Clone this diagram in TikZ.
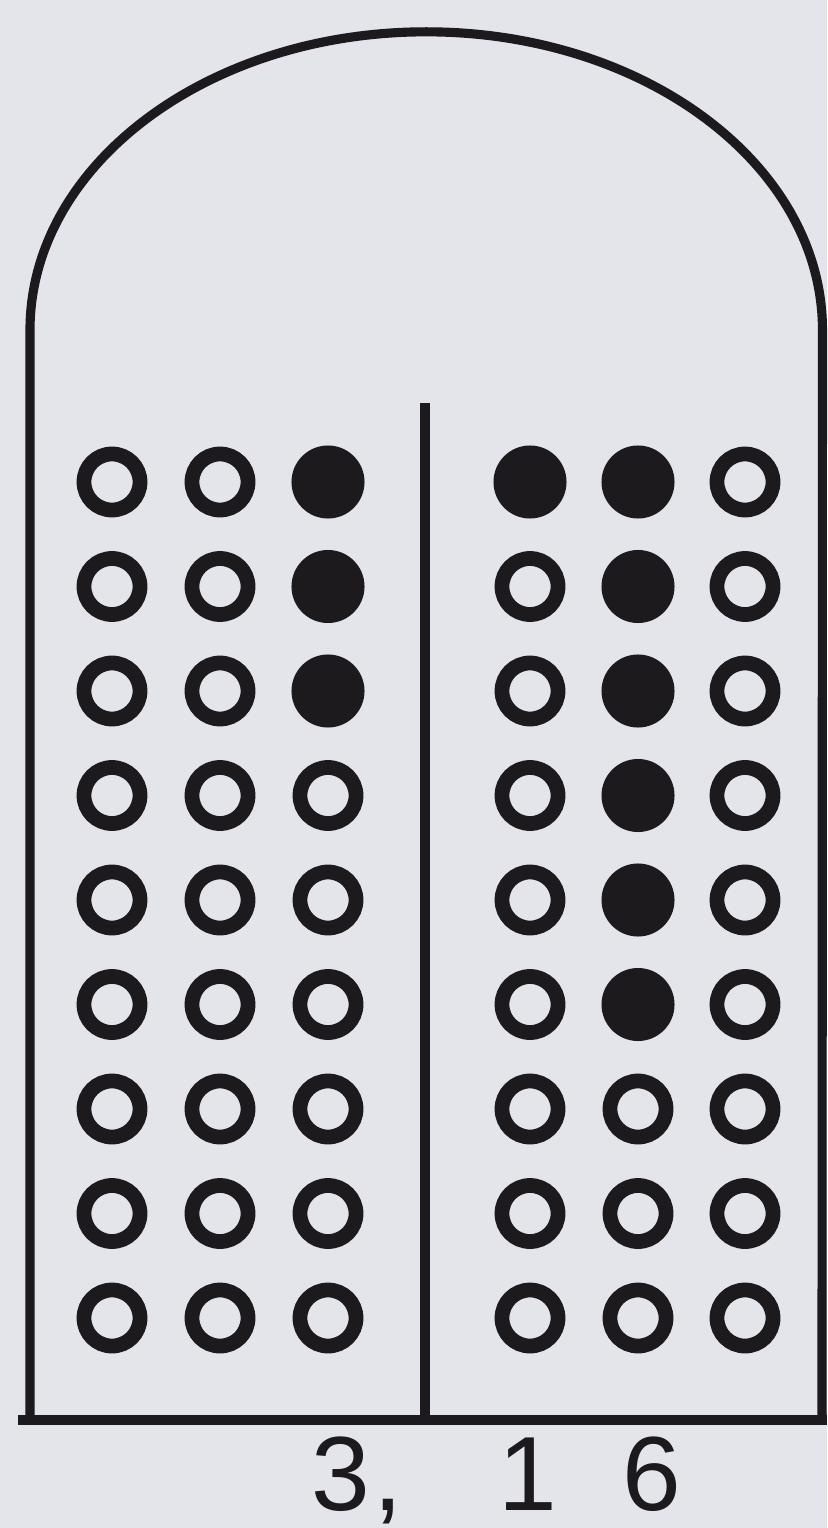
\documentclass[tikz,border=0pt]{standalone}
\usepackage{fontspec}
\setmainfont{Liberation Sans}
\definecolor{paper}{RGB}{228,229,235}
\definecolor{ink}{RGB}{28,26,28}
\begin{document}
\begin{tikzpicture}[x=0.01cm,y=-0.01cm,
  ring/.style={circle,draw=ink,line width=4.2pt,minimum size=0.56cm,inner sep=0pt},
  bead/.style={circle,fill=ink,minimum size=0.73cm,inner sep=0pt},
  frame/.style={draw=ink,line width=2.6pt},
  digit/.style={text=ink,font=\fontsize{30}{32}\selectfont,inner sep=0pt,anchor=base}]
\fill[paper] (0,0) rectangle (827,1528);
\useasboundingbox (0,0) rectangle (827,1528);
% frame
\coordinate (bl) at (30,1420);
\coordinate (br) at (822,1420);
\draw[frame] (bl) -- (30,330) arc[start angle=180,end angle=0,x radius=3.96cm,y radius=2.98cm] -- (br);
\coordinate (b0) at (18,1420);
\coordinate (b1) at (827,1420);
\draw[frame] (b0) -- (b1);
\coordinate (dtop) at (425,403);
\coordinate (dbot) at (425,1420);
\draw[frame] (dtop) -- (dbot);
% beads
\foreach \r in {1,...,9}{
  \pgfmathsetmacro{\yy}{482+(\r-1)*104.5}
  \foreach \c/\xx in {1/112,2/220,3/328,4/530,5/638,6/745}{
    \node[ring] (d-\r-\c) at (\xx,\yy) {};
  }
}
\foreach \r/\c in {1/3,2/3,3/3,1/4,1/5,2/5,3/5,4/5,5/5,6/5}{
  \node[bead] at (d-\r-\c) {};
}
% labels
\node[digit] (n3) at (341,1510) {3};
\node[digit] (nc) at (388,1510) {,};
\node[digit] (n1) at (528,1510) {1};
\node[digit] (n6) at (652,1510) {6};
\end{tikzpicture}
\end{document}
